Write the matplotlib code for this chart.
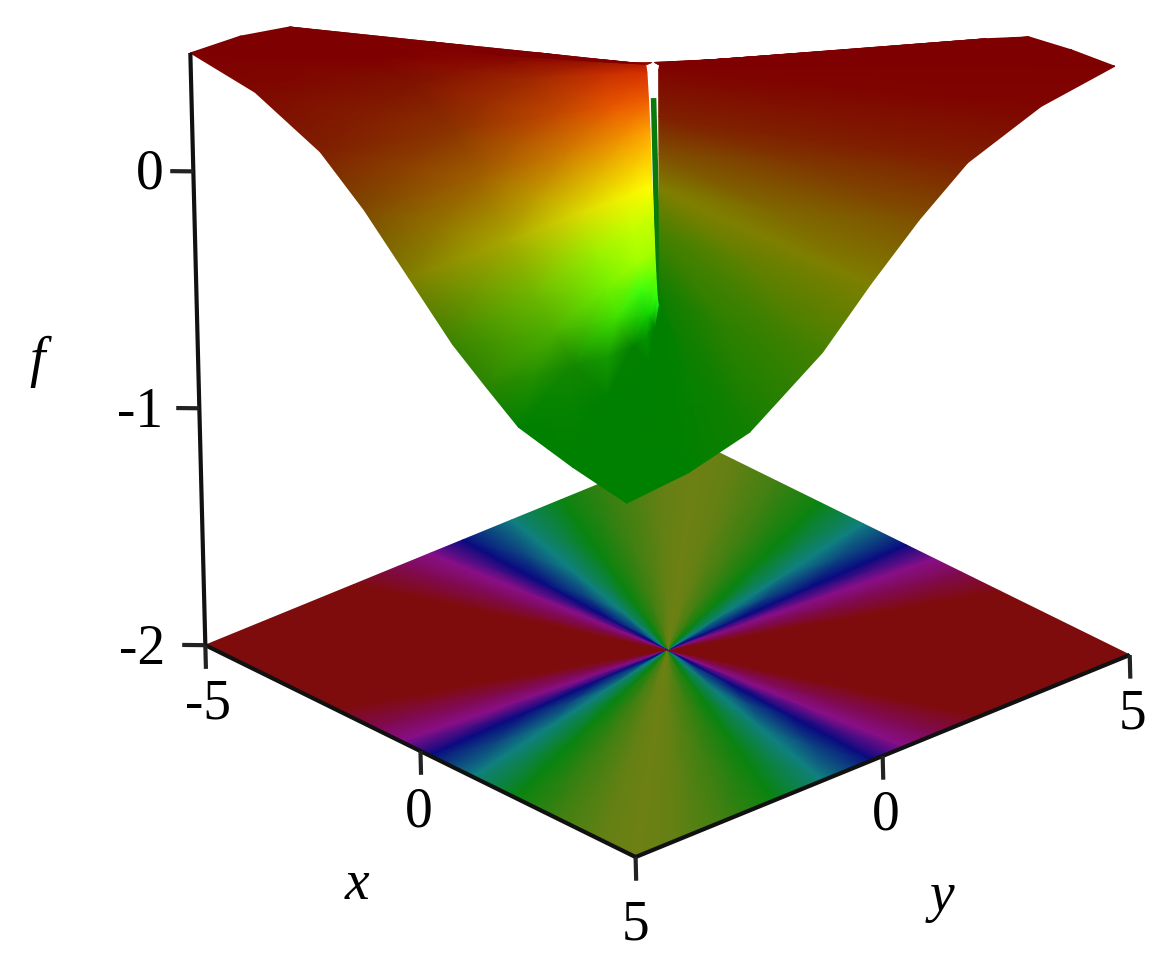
import numpy as np
import matplotlib
matplotlib.use("Agg")
import matplotlib.pyplot as plt
from matplotlib.colors import to_rgb
from mpl_toolkits.mplot3d import proj3d

plt.rcParams['font.family'] = ['Liberation Serif', 'DejaVu Serif']

# -----------------------------
# Axis values
# -----------------------------
x_ticks = [-5, 0, 5]
y_ticks = [0, 5]
z_ticks = [0, -1, -2]
z_top = 0.5
tear_z = [0.33, -0.55]
seam_z = [-0.53, -0.506]

# -----------------------------
# Floor colours, read along an edge (red corner to olive corner)
# -----------------------------
floor_t = [-5, -2, -1.1, -0.45, 0.2, 1.2, 2.2, 3.2, 4.2, 5]
floor_colors = ['#7f0c0c', '#7f0c0c', '#800a50', '#880f88', '#0a0a80',
                '#108080', '#0a8410', '#408012', '#648014', '#6e8014']
floor_r = [0, 0.3, 0.6, 1]

# -----------------------------
# Left part of the surface: rows run out from the centre,
# columns are points on the outer edge
# -----------------------------
left_r = [0.015, 0.12, 0.3, 0.6, 1.0]
left_x = [-5, -5, -5, -5, -5, -5, -3.5, -2, -1, 0, 1, 1.75, 2.5, 3.75, 5]
left_y = [3, 1, -1, -3, -4, -5, -5, -5, -5, -5, -5, -5, -5, -5, -5]
left_z = [
    [0.47, 0.47, 0.47, 0.47, 0.47, 0.47, 0.44, 0.32, 0.20, -0.04, -0.17, -0.30, -0.40, -0.50, -0.53],
    [0.389, 0.412, 0.438, 0.466, 0.472, 0.474, 0.444, 0.324, 0.199, -0.035, -0.173, -0.30, -0.401, -0.496, -0.527],
    [0.267, 0.324, 0.391, 0.461, 0.475, 0.479, 0.449, 0.329, 0.198, -0.028, -0.177, -0.301, -0.403, -0.49, -0.523],
    [0.064, 0.178, 0.312, 0.451, 0.479, 0.488, 0.457, 0.338, 0.196, -0.016, -0.184, -0.302, -0.405, -0.48, -0.516],
    [-0.207, -0.017, 0.207, 0.439, 0.485, 0.50, 0.468, 0.35, 0.194, 0.0, -0.194, -0.304, -0.409, -0.466, -0.506],
]
left_colors = [
    ['#a01000', '#a01000', '#a01000', '#a01000', '#a81800', '#b82000', '#d83000', '#f06000', '#ffa000', '#ffff00', '#c8ff00', '#a8ff00', '#70ff00', '#30ff10', '#20ff10'],
    ['#8a0500', '#8a0500', '#8a0500', '#8a0500', '#901000', '#a01800', '#c83000', '#e85800', '#f09000', '#f4f400', '#c0ff00', '#a0ff00', '#40ff10', '#10d000', '#008000'],
    ['#7f0000', '#7f0000', '#7f0000', '#7f0000', '#840400', '#8a0a00', '#a02800', '#c04800', '#d07c00', '#dcdc00', '#98f000', '#70f000', '#40e000', '#048000', '#008000'],
    ['#7f0000', '#7f0000', '#7f0000', '#7f0000', '#7f0000', '#7f0000', '#7f1400', '#8c3400', '#a06000', '#a8a800', '#70b800', '#4cb000', '#148800', '#008000', '#008000'],
    ['#7f0000', '#7f0000', '#7f0000', '#7f0000', '#7f0000', '#7f0000', '#7f0800', '#7f2000', '#7f4a00', '#7f7f00', '#3a8400', '#2a8400', '#008000', '#008000', '#008000'],
]

# -----------------------------
# Right part of the surface
# -----------------------------
right_r = [0.015, 1.0]
right_x = [5, 5, 5, 5, 5, 5, 5, 5, 5, 4, 3, 2, 1, -1, -3]
right_y = [-5, -3.75, -2.5, -1, 0, 1, 2, 3.5, 5, 5, 5, 5, 5, 5, 5]
right_z = [
    [-0.53, -0.52, -0.46, -0.23, -0.046, 0.10, 0.257, 0.45, 0.47, 0.47, 0.47, 0.47, 0.47, 0.47, 0.47],
    [-0.506, -0.485, -0.42, -0.211, -0.008, 0.177, 0.333, 0.443, 0.485, 0.464, 0.43, 0.333, 0.224, 0.004, -0.19],
]
right_colors = ['#008000', '#018000', '#127f00', '#458000', '#7f7f00', '#7f5000', '#7f2000', '#7f0500',
                '#7f0000', '#7f0000', '#7f0000', '#7f0000', '#7f0000', '#7f0000', '#7f0000']

# -----------------------------
# Figure and 3D axes
# -----------------------------
W, H = 1165, 968
fig = plt.figure(figsize=(W / 100, H / 100), dpi=100)

overlay = fig.add_axes([0, 0, 1, 1], zorder=0)
overlay.set_axis_off()

ax = fig.add_axes([162.8 / W, 122.9 / H, 968 / W, 968 / H], projection='3d', zorder=1)
ax.set_proj_type('ortho')
ax.view_init(elev=26.5, azim=-40.4, roll=1.45)
ax.set_xlim(-5, 5, view_margin=0)
ax.set_ylim(-5, 5, view_margin=0)
ax.set_zlim(-2, 0.55, view_margin=0)
ax.set_box_aspect((2.475, 2.475, 2.55), zoom=1.15)
ax.set_axis_off()
ax.patch.set_alpha(0)
ax.apply_aspect()


def to_pixels(xs, ys, zs):
    xs, ys, zs = np.broadcast_arrays(np.asarray(xs, float), np.asarray(ys, float), np.asarray(zs, float))
    u, v, _ = proj3d.proj_transform(xs.ravel(), ys.ravel(), zs.ravel(), ax.get_proj())
    pts = ax.transData.transform(np.column_stack([u, v]))
    return pts[:, 0].reshape(xs.shape), pts[:, 1].reshape(xs.shape)


def draw_fan(r, edge_x, edge_y, z, colors, zorder):
    r = np.asarray(r)[:, None]
    px, py = to_pixels(r * np.asarray(edge_x), r * np.asarray(edge_y), z)
    overlay.pcolormesh(px, py, colors, shading='gouraud', zorder=zorder)


# -----------------------------
# Floor
# -----------------------------
t = np.array(floor_t, float)
floor_rgb = np.array([to_rgb(c) for c in floor_colors])
edge_x = np.concatenate([t, np.full(t.size, 5.0), -t, np.full(t.size, -5.0)])
edge_y = np.concatenate([np.full(t.size, -5.0), -t[::-1], np.full(t.size, 5.0), t[::-1]])
edge_rgb = np.concatenate([floor_rgb, floor_rgb[::-1], floor_rgb, floor_rgb[::-1]])
draw_fan(floor_r, edge_x, edge_y, -2.0, np.stack([edge_rgb] * len(floor_r)), 1)

# -----------------------------
# Surface
# -----------------------------
tx, ty = to_pixels([0, 0], [0, 0], tear_z)
overlay.plot(tx, ty, color='#0a7a0a', lw=4, solid_capstyle='butt', zorder=2)
sx, sy = to_pixels([0, 5], [0, -5], seam_z)
overlay.plot(sx, sy, color='#008000', lw=2, solid_capstyle='butt', zorder=2)

left_rgb = np.array([[to_rgb(c) for c in row] for row in left_colors])
right_rgb = np.array([to_rgb(c) for c in right_colors])
draw_fan(right_r, right_x, right_y, np.array(right_z), np.stack([right_rgb, right_rgb]), 3)
draw_fan(left_r, left_x, left_y, np.array(left_z), left_rgb, 4)

overlay.set_xlim(0, W)
overlay.set_ylim(0, H)

# -----------------------------
# Axis lines and ticks
# -----------------------------
line_kw = dict(color='#111111', lw=3, solid_capstyle='butt', clip_on=False)
ax.plot([-5, 5], [-5, -5], [-2, -2], **line_kw)
ax.plot([5, 5], [-5, 5], [-2, -2], **line_kw)
ax.plot([-5, -5], [-5, -5], [-2, z_top], **line_kw)

tick_kw = dict(color='#222222', lw=3, solid_capstyle='butt', clip_on=False)
for v in x_ticks:
    ax.plot([v, v], [-5, -5], [-2, -2.1], **tick_kw)
for v in y_ticks:
    ax.plot([5, 5], [v, v], [-2, -2.1], **tick_kw)
for v in z_ticks:
    ax.plot([-5, -5.25], [-5, -5.25], [v, v], **tick_kw)

# -----------------------------
# Labels
# -----------------------------
label_size = 40


def tick_label(text, xyz, offset, ha='center'):
    px, py = to_pixels(*xyz)
    overlay.annotate(text, xy=(float(px), float(py)), xytext=offset, textcoords='offset pixels',
                     ha=ha, va='center', fontsize=label_size, color='black')


tick_label('0', (-5, -5, 0), (-30, -3), 'right')
tick_label('-1', (-5, -5, -1), (-36, -5), 'right')
tick_label('-2', (-5, -5, -2), (-40, -5), 'right')
tick_label('-5', (-5, -5, -2), (3, -59))
tick_label('0', (0, -5, -2), (-2, -61))
tick_label('5', (5, -5, -2), (0, -68))
tick_label('0', (5, 0, -2), (3, -59))
tick_label('5', (5, 5, -2), (3, -60))

overlay.text(357, H - 885, 'x', style='italic', fontsize=label_size, ha='center', va='center')
overlay.text(942, H - 897, 'y', style='italic', fontsize=label_size, ha='center', va='center')
overlay.text(37, H - 362, 'f', style='italic', fontsize=label_size, ha='center', va='center')

fig.savefig("out.png", dpi=100)
